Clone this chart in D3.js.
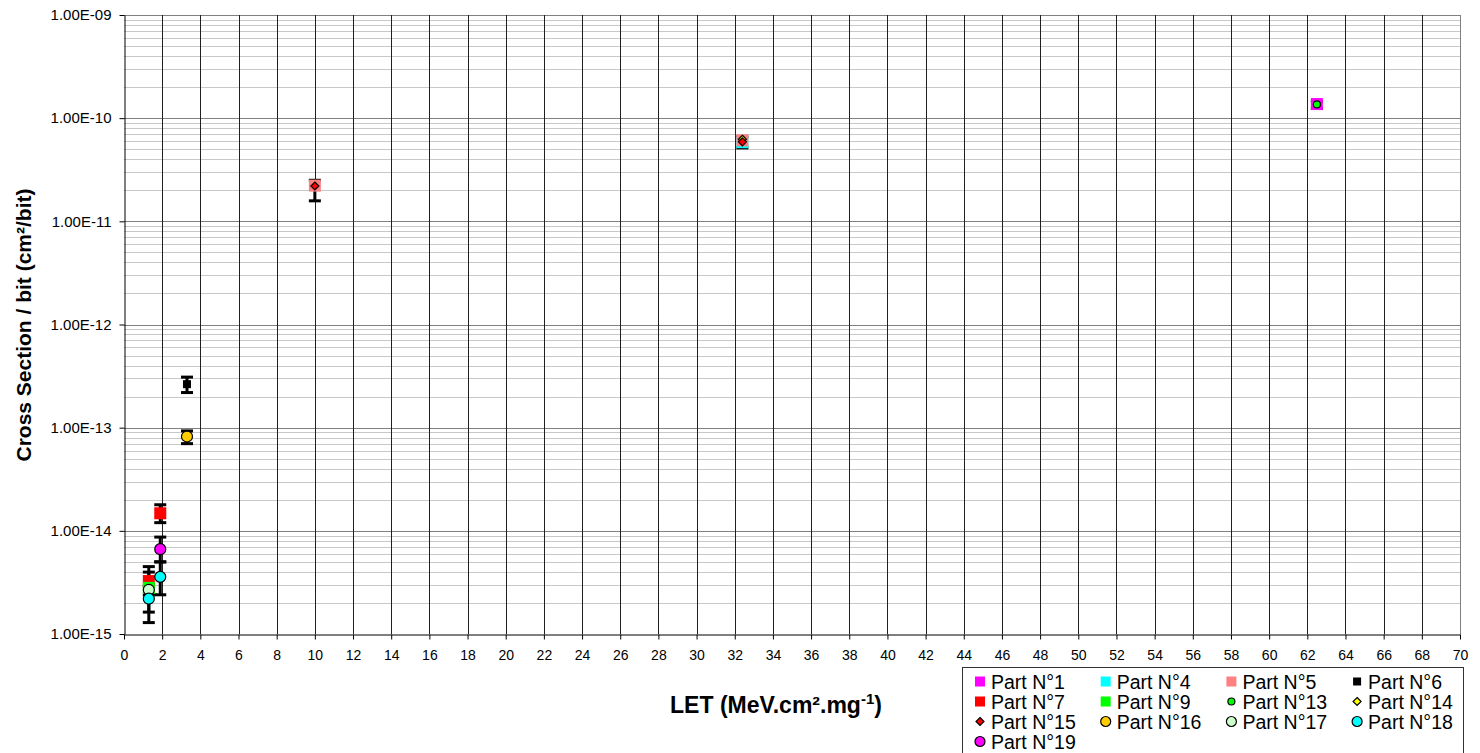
<!DOCTYPE html>
<html>
<head>
<meta charset="utf-8">
<script src="https://cdn.jsdelivr.net/npm/d3@7"></script>
<style>
body{margin:0;background:#fff;}
text{font-family:"Liberation Sans",Arial,sans-serif;}
</style>
</head>
<body>
<svg id="chart" width="1480" height="753"></svg>
<script>
// each point : [LET, cross section, error low, error high]
const part1  = [[62.5, 1.37e-10, 1.24e-10, 1.45e-10]];
const part4  = [[32.4, 5.85e-11, null, null]];
const part5  = [[10, 2.22e-11, 1.58e-11, 2.5e-11], [32.4, 6.1e-11, 5.15e-11, 6.6e-11]];
const part6  = [[3.3, 2.64e-13, 2.19e-13, 3.09e-13]];
const part7  = [[1.3, 3.26e-15, 2.4e-15, 4.5e-15], [1.9, 1.48e-14, 1.2e-14, 1.79e-14]];
const part9  = [[1.3, 2.8e-15, null, null]];
const part13 = [[62.5, 1.36e-10, null, null]];
const part14 = [[32.4, 6.25e-11, null, null]];
const part15 = [[10, 2.2e-11, null, null], [32.4, 5.9e-11, null, null]];
const part16 = [[3.3, 8.2e-14, 7.0e-14, 9.3e-14]];
const part17 = [[1.3, 2.68e-15, 1.63e-15, 3.98e-15]];
const part18 = [[1.3, 2.2e-15, 1.29e-15, 2.9e-15], [1.9, 3.58e-15, 2.4e-15, 5.0e-15]];
const part19 = [[1.9, 6.64e-15, 5.0e-15, 8.7e-15]];

const partNames = ["Part N°1","Part N°4","Part N°5","Part N°6","Part N°7","Part N°9","Part N°13",
                   "Part N°14","Part N°15","Part N°16","Part N°17","Part N°18","Part N°19"];
const partData = [part1, part4, part5, part6, part7, part9, part13, part14, part15, part16, part17, part18, part19];

const xTicks = d3.range(0, 71, 2);
const yTicks = [1e-15, 1e-14, 1e-13, 1e-12, 1e-11, 1e-10, 1e-9];

// marker looks, same order as partNames
const looks = [
  {shape:"square", fill:"#ff00ff", size:12},
  {shape:"square", fill:"#00ffff", size:12},
  {shape:"square", fill:"#ff8080", size:12},
  {shape:"square", fill:"#000000", size:8},
  {shape:"square", fill:"#ff0000", size:12},
  {shape:"square", fill:"#00ff00", size:12},
  {shape:"circle", fill:"#00ff00", size:7, stroke:true},
  {shape:"diamond", fill:"#ffff00", size:8, stroke:true},
  {shape:"diamond", fill:"#ff0000", size:8, stroke:true},
  {shape:"circle", fill:"#ffcc00", size:11, stroke:true},
  {shape:"circle", fill:"#ccffcc", size:11, stroke:true},
  {shape:"circle", fill:"#00ffff", size:11, stroke:true},
  {shape:"circle", fill:"#ff00ff", size:11, stroke:true}
];

const svg = d3.select("#chart");
const x = d3.scaleLinear().domain([0, 70]).range([124, 1460]);
const y = d3.scaleLog().domain([1e-15, 1e-9]).range([634, 15]);

// minor horizontal grid
let minors = [];
for (let e = -15; e < -9; e++) for (let k = 2; k <= 9; k++) minors.push(k * Math.pow(10, e));
svg.append("g")
  .selectAll("line")
  .data(minors)
  .join("line")
  .attr("x1", x(0)).attr("x2", x(70))
  .attr("y1", d => Math.round(y(d)) + 0.5).attr("y2", d => Math.round(y(d)) + 0.5)
  .attr("stroke", "#c8c8c8");

// decade grid
svg.append("g")
  .selectAll("line")
  .data(yTicks.slice(1))
  .join("line")
  .attr("x1", x(0)).attr("x2", x(70))
  .attr("y1", d => Math.round(y(d)) + 0.5).attr("y2", d => Math.round(y(d)) + 0.5)
  .attr("stroke", "#808080");

// vertical grid
svg.append("g")
  .selectAll("line")
  .data(xTicks.slice(1))
  .join("line")
  .attr("x1", d => Math.round(x(d)) + 0.5).attr("x2", d => Math.round(x(d)) + 0.5)
  .attr("y1", y(1e-9)).attr("y2", y(1e-15))
  .attr("stroke", d => d == 70 ? "#808080" : "#202020");

// axes
const fmtE = d => {
  let [m, e] = d.toExponential(2).split("e");
  let n = Math.abs(+e);
  return m + "E" + (+e < 0 ? "-" : "+") + (n < 10 ? "0" + n : n);
};
svg.append("g")
  .attr("transform", `translate(0,${Math.round(y(1e-15)) + 0.5})`)
  .call(d3.axisBottom(x).tickValues(xTicks).tickSize(5).tickPadding(11).tickSizeOuter(0))
  .call(g => g.selectAll("text").style("font-size", "14px").attr("fill", "#000"))
  .call(g => g.selectAll("line,path").attr("stroke", "#000"));
svg.append("g")
  .attr("transform", `translate(${Math.round(x(0)) + 0.5},0)`)
  .call(d3.axisLeft(y).tickValues(yTicks).tickFormat(fmtE).tickSize(5).tickPadding(8).tickSizeOuter(0))
  .call(g => g.selectAll("text").style("font-size", "15px").attr("fill", "#000"))
  .call(g => g.selectAll("line,path").attr("stroke", "#000"));

// error bars
const points = [];
partData.forEach((pts, i) => pts.forEach(p => points.push({part: i, let: p[0], v: p[1], lo: p[2], hi: p[3]})));
const bars = svg.append("g").attr("stroke", "#000").attr("stroke-width", 3);
points.filter(d => d.lo != null).forEach(d => {
  let cx = x(d.let);
  bars.append("line").attr("x1", cx).attr("x2", cx).attr("y1", y(d.lo)).attr("y2", y(d.hi));
  [d.lo, d.hi].forEach(b => bars.append("line")
    .attr("x1", cx - 6).attr("x2", cx + 6).attr("y1", y(b)).attr("y2", y(b)));
});

function drawMarker(g, look, cx, cy) {
  let s = look.size;
  let m;
  if (look.shape == "square") {
    m = g.append("rect").attr("x", cx - s / 2).attr("y", cy - s / 2).attr("width", s).attr("height", s);
  } else if (look.shape == "circle") {
    m = g.append("circle").attr("cx", cx).attr("cy", cy).attr("r", s / 2);
  } else {
    m = g.append("path").attr("d", `M${cx},${cy - s / 2}L${cx + s / 2},${cy}L${cx},${cy + s / 2}L${cx - s / 2},${cy}Z`);
  }
  m.attr("fill", look.fill);
  if (look.stroke) m.attr("stroke", "#000").attr("stroke-width", 1.2);
}

const marks = svg.append("g");
points.forEach(d => drawMarker(marks, looks[d.part], x(d.let), y(d.v)));

// axis titles
svg.append("text")
  .attr("transform", "translate(31,325) rotate(-90)")
  .attr("text-anchor", "middle")
  .style("font-size", "21px").style("font-weight", "bold")
  .text("Cross Section / bit (cm²/bit)");

const xt = svg.append("text")
  .attr("x", 776).attr("y", 713)
  .attr("text-anchor", "middle")
  .style("font-size", "23px").style("font-weight", "bold");
xt.append("tspan").text("LET (MeV.cm².mg");
xt.append("tspan").attr("dy", -9).style("font-size", "15px").text("-1");
xt.append("tspan").attr("dy", 9).text(")");

// legend
const leg = svg.append("g");
leg.append("rect")
  .attr("x", 962.5).attr("y", 667.5).attr("width", 501).attr("height", 100)
  .attr("fill", "#fff").attr("stroke", "#333");
partNames.forEach((name, i) => {
  let col = i % 4, row = Math.floor(i / 4);
  let cx = 980 + col * 125.7, cy = 681.5 + row * 20;
  let look = Object.assign({}, looks[i]);
  if (look.size > 10) look.size = 10;
  drawMarker(leg, look, cx, cy);
  leg.append("text")
    .attr("x", cx + 11).attr("y", cy).attr("dy", "0.36em")
    .style("font-size", "19.5px")
    .text(name);
});
</script>
</body>
</html>
